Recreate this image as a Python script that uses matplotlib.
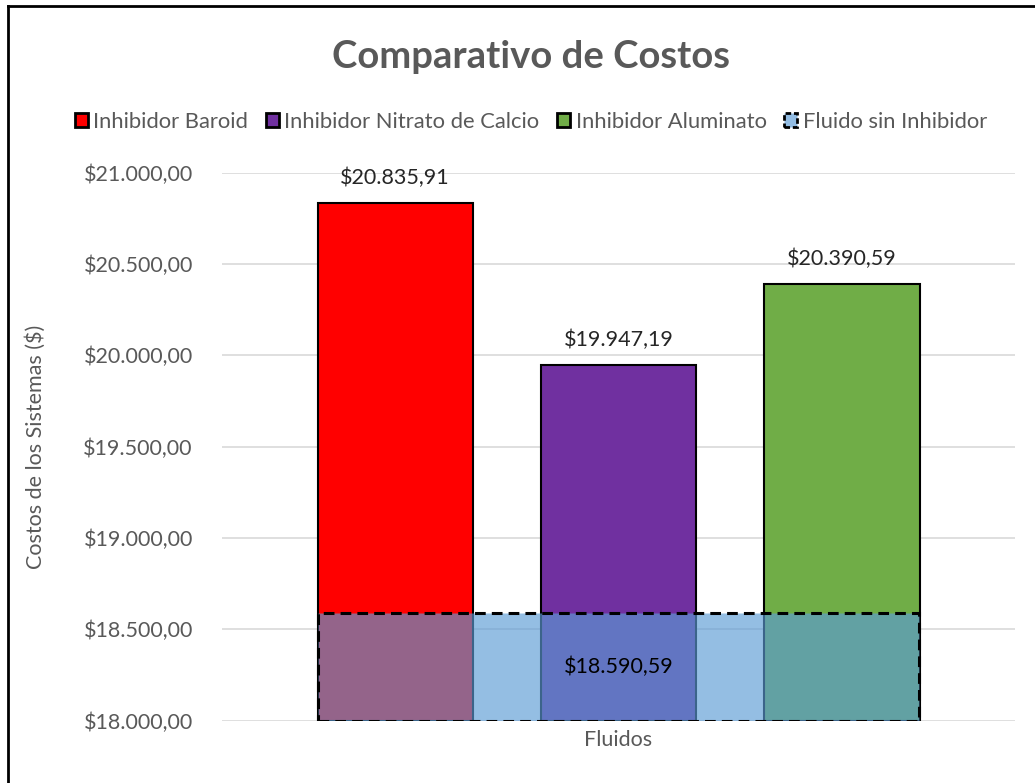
import matplotlib
matplotlib.use("Agg")
import matplotlib.pyplot as plt
from matplotlib.lines import Line2D
from matplotlib.patches import Patch

plt.rcParams['font.family'] = ['Lato', 'DejaVu Sans']

# Costos de cada sistema de fluido
series = ["Inhibidor Baroid", "Inhibidor Nitrato de Calcio", "Inhibidor Aluminato"]
costos = [20835.91, 19947.19, 20390.59]
colores = ["#FF0000", "#7030A0", "#70AD47"]
base_nombre = "Fluido sin Inhibidor"
base_costo = 18590.59
yticks = [18000, 18500, 19000, 19500, 20000, 20500, 21000]


def pesos(v):
    s = f"{v:,.2f}".replace(",", "X").replace(".", ",").replace("X", ".")
    return "$" + s


gris = "#595959"
fig = plt.figure(figsize=(10.35, 7.83), dpi=100)
ax = fig.add_axes([0.2145, 0.0796, 0.7662, 0.6998])

ancho = 0.1955
paso = 0.2818
offsets = [-paso, 0, paso]
for nombre, c, col, off in zip(series, costos, colores, offsets):
    ax.bar(off, c - 18000, bottom=18000, width=ancho, color=col,
           edgecolor="black", linewidth=1.5, zorder=2, label=nombre)
    ax.text(off, c + 80, pesos(c), ha="center", va="bottom",
            fontsize=15.5, color="#262626")

# Serie base superpuesta: relleno semitransparente, borde punteado opaco
ax.bar(0, base_costo - 18000, bottom=18000, width=0.759,
       facecolor=(0.357, 0.608, 0.835, 0.65), edgecolor="black",
       linewidth=2.2, linestyle=(0, (3.5, 2)), zorder=3, label=base_nombre)
ax.text(0, (base_costo + 18000) / 2, pesos(base_costo), ha="center",
        va="center", fontsize=15.5, color="black", zorder=4)

ax.set_xlim(-0.5, 0.5)
ax.set_ylim(18000, 21000)
ax.set_yticks(yticks)
ax.set_yticklabels([pesos(v) for v in yticks], fontsize=15.5, color=gris)
ax.tick_params(axis="y", length=0, pad=21)
ax.set_xticks([])
ax.grid(axis="y", color="#D9D9D9", linewidth=1.2, zorder=0)
ax.set_axisbelow(True)
for s in ax.spines.values():
    s.set_visible(False)

ax.set_ylabel("Costos de los Sistemas ($)", fontsize=15.5, color=gris, labelpad=27)
ax.set_xlabel("Fluidos", fontsize=15.5, color=gris, labelpad=7)

fig.text(0.513, 0.927, "Comparativo de Costos", ha="center", va="center",
         fontsize=27.5, fontweight="bold", color=gris)

handles = [Patch(facecolor=col, edgecolor="black", linewidth=2) for col in colores]
handles.append(Patch(facecolor="#93BDE4", edgecolor="black", linewidth=2,
                     linestyle=(0, (2, 1))))
fig.legend(handles, series + [base_nombre], loc="center", ncol=4,
           bbox_to_anchor=(0.513, 0.844), frameon=False, fontsize=15.8,
           handlelength=0.6, handleheight=0.6, handletextpad=0.25,
           columnspacing=0.8, labelcolor=gris)

# Marco del recuadro
fig.add_artist(Line2D([8 / 1035, 8 / 1035], [0, 1 - 6 / 783],
                      transform=fig.transFigure, color="black", linewidth=2))
fig.add_artist(Line2D([8 / 1035, 1], [1 - 6 / 783, 1 - 6 / 783],
                      transform=fig.transFigure, color="black", linewidth=2))

fig.savefig("out.png", dpi=100)
